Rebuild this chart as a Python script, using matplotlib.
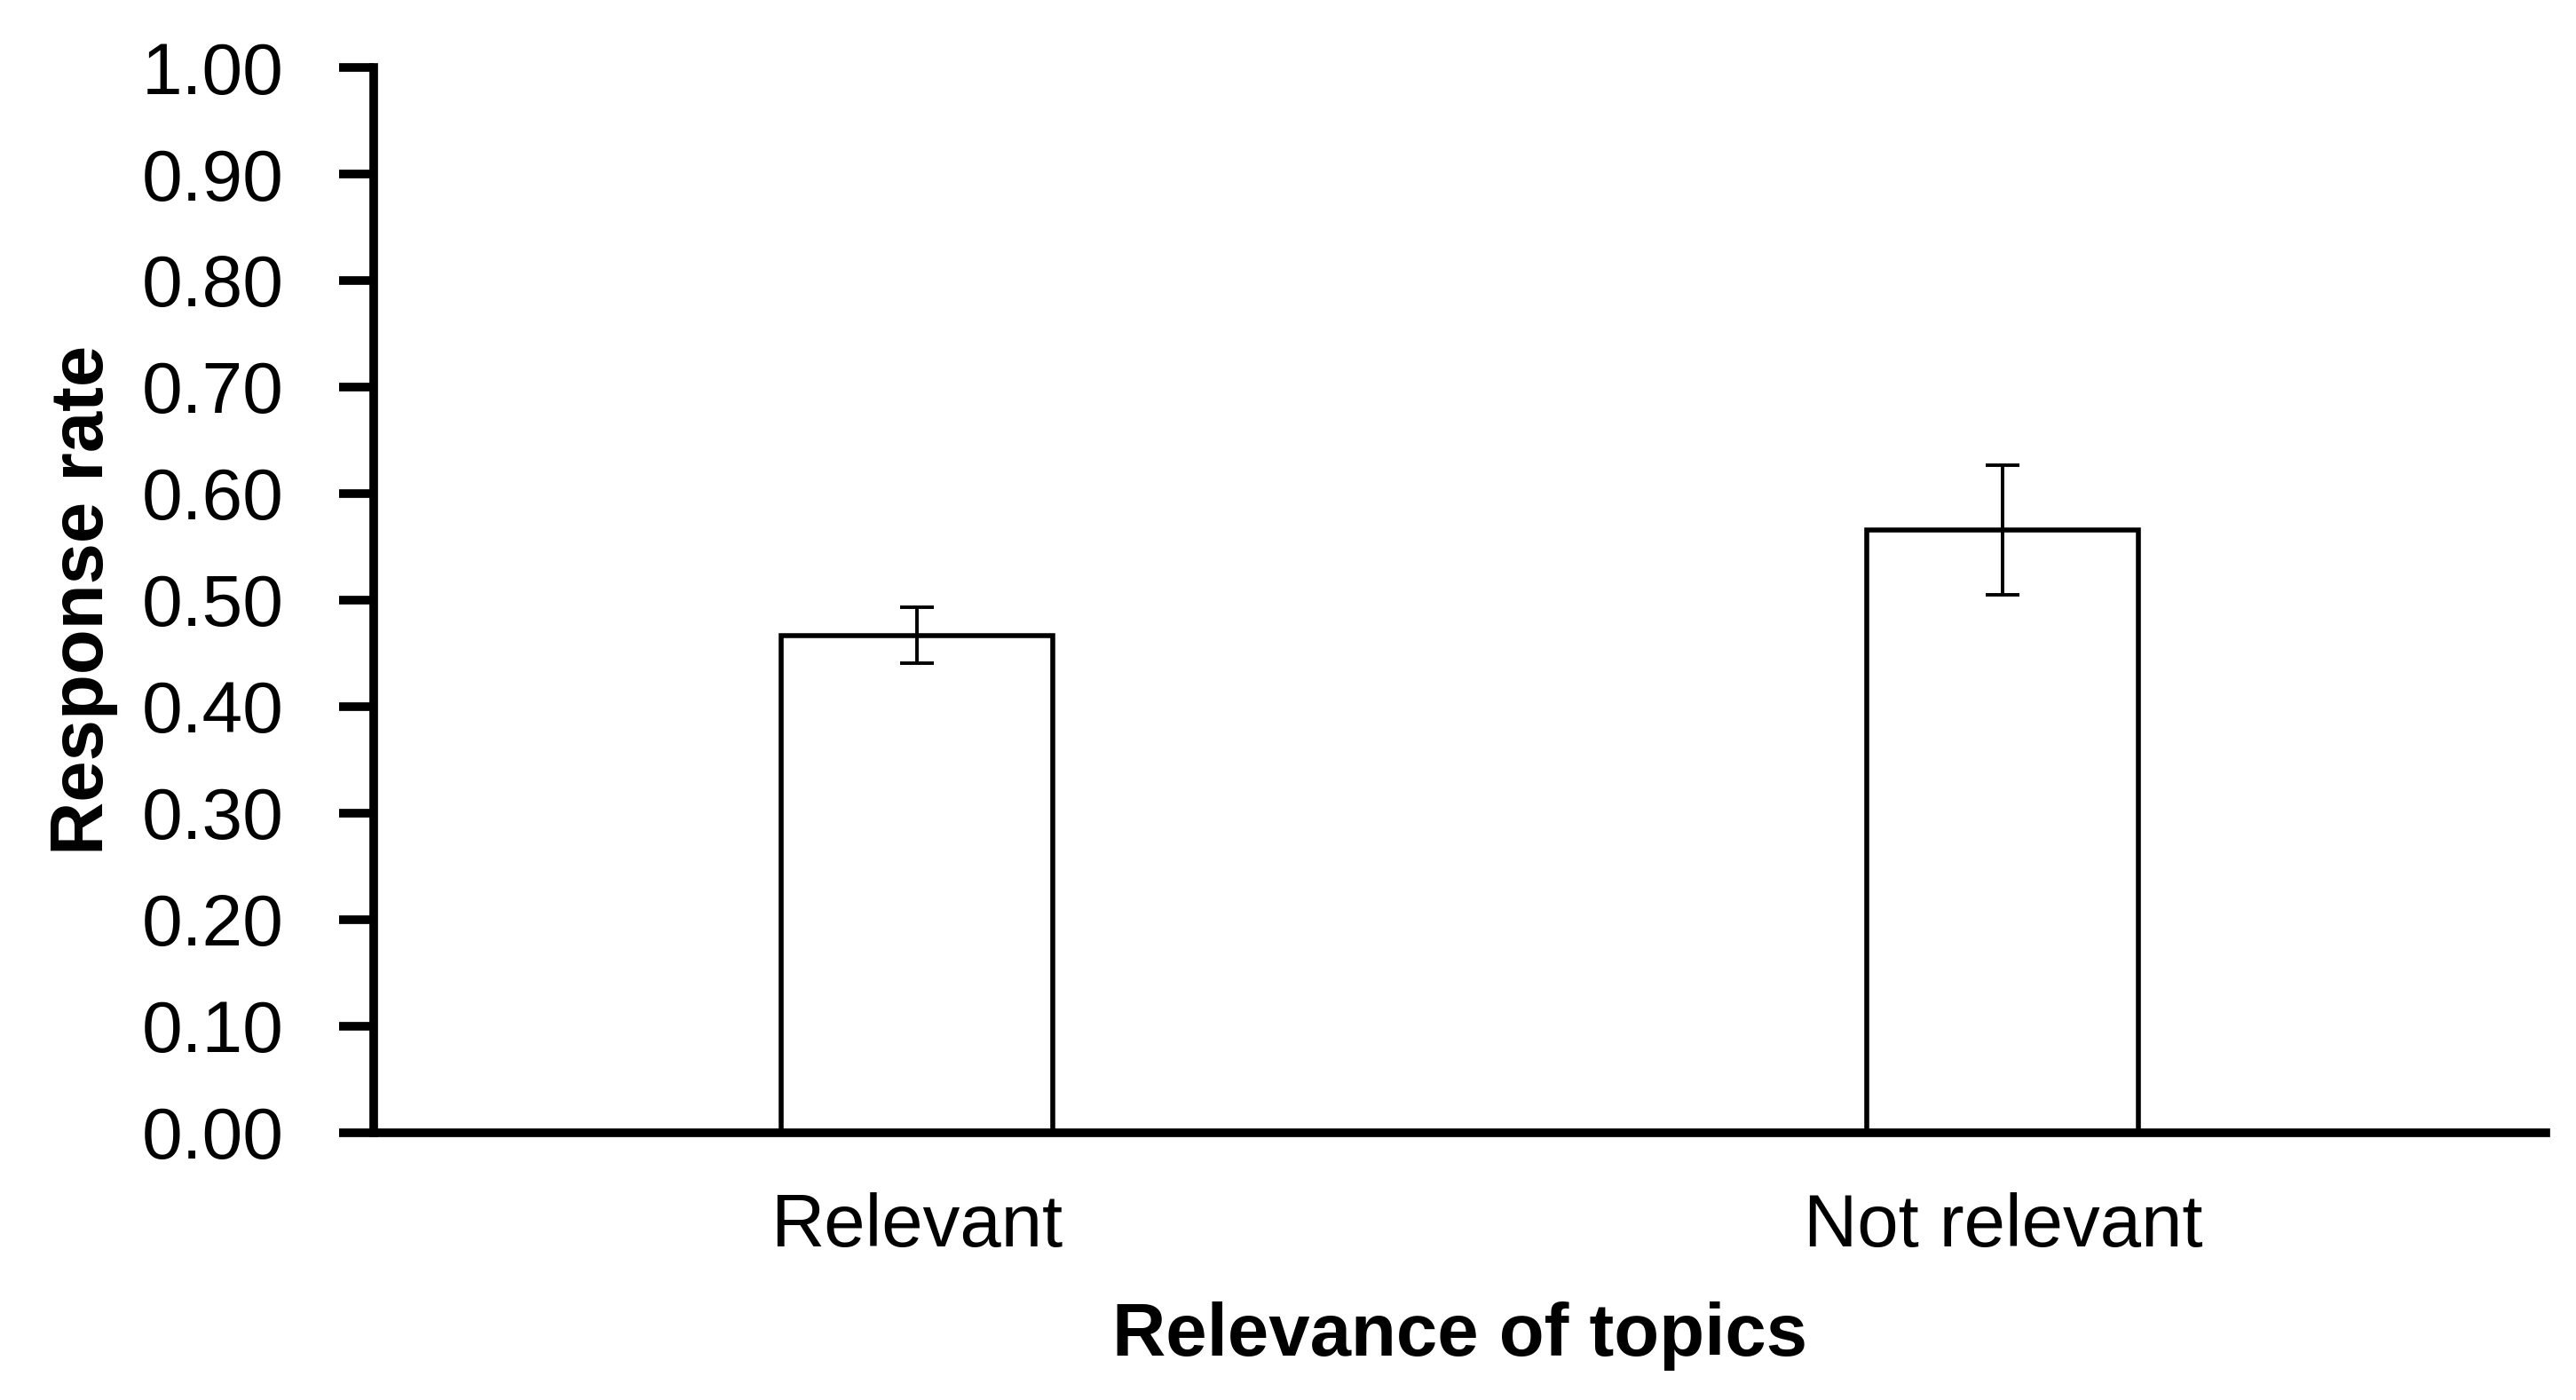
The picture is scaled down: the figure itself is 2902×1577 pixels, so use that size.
import matplotlib
matplotlib.use("Agg")
import matplotlib.pyplot as plt

plt.rcParams['font.family'] = ['Liberation Sans', 'DejaVu Sans']

# data
categories = ["Relevant", "Not relevant"]
response_rate = [0.467, 0.566]
error = [0.026, 0.061]
yticks = [0.0, 0.1, 0.2, 0.3, 0.4, 0.5, 0.6, 0.7, 0.8, 0.9, 1.0]

fig = plt.figure(figsize=(29.02, 15.77), dpi=100)
ax = fig.add_axes([0.1451, 0.1909, 0.8432, 0.7609])

x = list(range(len(categories)))
ax.bar(x, response_rate, width=0.25, color="white", edgecolor="black",
       linewidth=4, zorder=2)
ax.errorbar(x, response_rate, yerr=error, fmt="none", ecolor="black",
            elinewidth=2.8, capsize=14, capthick=2.8, zorder=3)

ax.set_xlim(-0.5, 1.5)
ax.set_ylim(0, 1.0)
ax.set_yticks(yticks)
ax.set_yticklabels([f"{t:.2f}" for t in yticks])
ax.set_xticks(x)
ax.set_xticklabels(categories)

for side in ["top", "right"]:
    ax.spines[side].set_visible(False)
for side in ["left", "bottom"]:
    ax.spines[side].set_linewidth(7)
    ax.spines[side].set_capstyle("projecting")

ax.tick_params(axis="y", length=28, width=7, labelsize=59, pad=45)
ax.tick_params(axis="x", length=0, labelsize=60, pad=48)

ax.set_xlabel("Relevance of topics", fontsize=60, fontweight="bold", labelpad=33)
ax.set_ylabel("Response rate", fontsize=60, fontweight="bold", labelpad=19)

fig.savefig("out.png", dpi=100)
